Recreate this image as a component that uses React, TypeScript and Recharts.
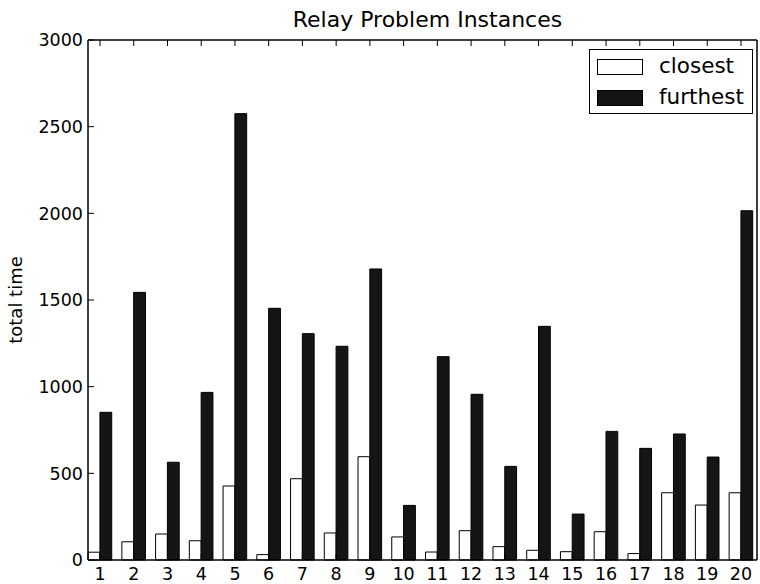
import React from 'react';
import { BarChart, Bar, XAxis, YAxis, Legend } from 'recharts';

const categories = ['1', '2', '3', '4', '5', '6', '7', '8', '9', '10', '11', '12', '13', '14', '15', '16', '17', '18', '19', '20'];
const closest = [45, 105, 150, 111, 427, 31, 469, 156, 596, 133, 46, 169, 77, 56, 48, 163, 37, 388, 317, 388];
const furthest = [852, 1544, 564, 967, 2575, 1452, 1306, 1233, 1679, 315, 1173, 956, 540, 1348, 265, 742, 644, 727, 594, 2015];
const yTicks = [0, 500, 1000, 1500, 2000, 2500, 3000];

const data = categories.map((name, i) => ({ name, closest: closest[i], furthest: furthest[i] }));

const FONT = '"DejaVu Sans", sans-serif';
const TICK_LEN = 6;

const BottomTick = (props: any) => {
  const { x, y, payload } = props;
  return (
    <g>
      <line x1={x} y1={y} x2={x} y2={y - TICK_LEN} stroke="#000" strokeWidth={1} />
      <text x={x} y={y + 20} textAnchor="middle" fontSize={17.5} fontFamily={FONT} fill="#000">
        {payload.value}
      </text>
    </g>
  );
};

const TopTick = (props: any) => {
  const { x, y } = props;
  return <line x1={x} y1={y} x2={x} y2={y + TICK_LEN} stroke="#000" strokeWidth={1} />;
};

const LeftTick = (props: any) => {
  const { x, y, payload } = props;
  return (
    <g>
      <line x1={x} y1={y} x2={x + TICK_LEN} y2={y} stroke="#000" strokeWidth={1} />
      <text x={x - 5} y={y} dy="0.36em" textAnchor="end" fontSize={17.5} fontFamily={FONT} fill="#000">
        {payload.value}
      </text>
    </g>
  );
};

const RightTick = (props: any) => {
  const { x, y } = props;
  return <line x1={x} y1={y} x2={x - TICK_LEN} y2={y} stroke="#000" strokeWidth={1} />;
};

const LegendBox = () => (
  <div
    style={{
      width: 162,
      height: 63,
      border: '1px solid #000',
      background: '#fff',
      fontFamily: FONT,
      fontSize: 21.5,
      color: '#000',
      position: 'relative',
    }}
  >
    <div style={{ position: 'absolute', left: 7, top: 9, width: 44, height: 14, border: '1px solid #000', background: '#fff' }} />
    <div style={{ position: 'absolute', left: 69, top: 2, lineHeight: '28px' }}>closest</div>
    <div style={{ position: 'absolute', left: 7, top: 40, width: 44, height: 14, border: '1px solid #000', background: '#151515' }} />
    <div style={{ position: 'absolute', left: 69, top: 33, lineHeight: '28px' }}>furthest</div>
  </div>
);

const axisLine = { stroke: '#000', strokeWidth: 1.5 };

export default function App() {
  return (
    <div style={{ position: 'absolute', left: 0, top: 0, width: 760, height: 584, background: '#fff' }}>
      <BarChart
        width={760}
        height={584}
        data={data}
        margin={{ top: 0, right: 0, bottom: 0, left: 0 }}
        barGap={0}
      >
        <XAxis
          xAxisId="bottom"
          dataKey="name"
          orientation="bottom"
          height={24}
          padding={{ left: -4.87, right: -0.87 }}
          interval={0}
          tickSize={0}
          tickMargin={0}
          tickLine={false}
          axisLine={axisLine}
          tick={<BottomTick />}
        />
        <XAxis
          xAxisId="top"
          dataKey="name"
          orientation="top"
          height={40}
          padding={{ left: -4.87, right: -0.87 }}
          interval={0}
          tickSize={0}
          tickMargin={0}
          tickLine={false}
          axisLine={axisLine}
          tick={<TopTick />}
          label={{
            value: 'Relay Problem Instances',
            position: 'insideTop',
            offset: 11,
            dx: 5,
            style: { fontFamily: FONT, fontSize: 22, fill: '#000' },
          }}
        />
        <YAxis
          yAxisId="left"
          type="number"
          domain={[0, 3000]}
          ticks={yTicks}
          interval={0}
          width={88}
          tickSize={0}
          tickMargin={0}
          tickLine={false}
          axisLine={axisLine}
          tick={<LeftTick />}
          label={{
            value: 'total time',
            angle: -90,
            position: 'insideLeft',
            offset: 16,
            style: { textAnchor: 'middle', fontFamily: FONT, fontSize: 18, fill: '#000' },
          }}
        />
        <YAxis
          yAxisId="right"
          orientation="right"
          type="number"
          domain={[0, 3000]}
          ticks={yTicks}
          interval={0}
          width={3}
          tickSize={0}
          tickMargin={0}
          tickLine={false}
          axisLine={axisLine}
          tick={<RightTick />}
        />
        <Legend
          layout="vertical"
          align="center"
          verticalAlign="middle"
          content={<LegendBox />}
          wrapperStyle={{ position: 'absolute', left: 589, top: 49, width: 'auto', height: 'auto' }}
        />
        <Bar
          dataKey="closest"
          xAxisId="bottom"
          yAxisId="left"
          fill="#ffffff"
          stroke="#000"
          strokeWidth={1}
          barSize={11.8}
          isAnimationActive={false}
        />
        <Bar
          dataKey="furthest"
          xAxisId="bottom"
          yAxisId="left"
          fill="#151515"
          stroke="#000"
          strokeWidth={1}
          barSize={11.8}
          isAnimationActive={false}
        />
      </BarChart>
    </div>
  );
}
